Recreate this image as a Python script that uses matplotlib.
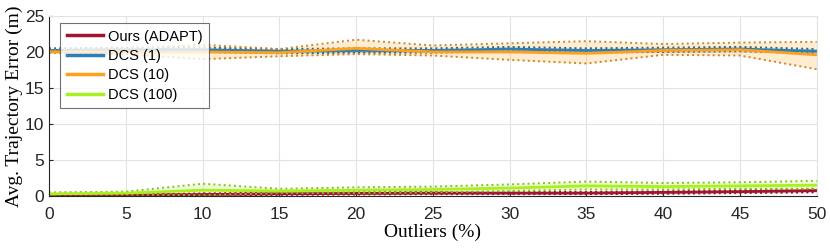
import matplotlib

matplotlib.use("Agg")
import matplotlib.pyplot as plt
import numpy as np

outliers = [0, 5, 10, 15, 20, 25, 30, 35, 40, 45, 50]

ours_mean = [-0.1, 0.1, 0.2, 0.3, 0.35, 0.4, 0.4, 0.4, 0.5, 0.6, 0.75]
ours_lo = [-0.2, 0.0, 0.05, 0.15, 0.2, 0.25, 0.25, 0.25, 0.3, 0.4, 0.5]
ours_hi = [0.0, 0.2, 0.35, 0.45, 0.5, 0.55, 0.55, 0.55, 0.65, 0.8, 1.0]

dcs1_mean = [20.2, 20.3, 20.3, 20.1, 20.2, 20.2, 20.4, 20.2, 20.3, 20.4, 20.1]
dcs1_lo = [19.9, 20.0, 20.0, 19.8, 19.9, 19.9, 20.1, 19.9, 20.0, 20.1, 19.8]
dcs1_hi = [20.5, 20.6, 20.6, 20.4, 20.5, 20.5, 20.7, 20.5, 20.6, 20.7, 20.4]

dcs10_mean = [20.0, 20.0, 20.0, 19.9, 20.5, 20.0, 20.0, 19.8, 20.2, 20.3, 19.6]
dcs10_lo = [19.9, 19.7, 19.0, 19.4, 19.7, 19.5, 18.9, 18.4, 19.6, 19.5, 17.6]
dcs10_hi = [20.2, 20.4, 21.0, 20.4, 21.7, 20.9, 21.2, 21.5, 21.1, 21.3, 21.4]

dcs100_mean = [0.3, 0.4, 0.8, 0.7, 0.8, 0.9, 1.1, 1.4, 1.3, 1.4, 1.5]
dcs100_lo = [0.2, 0.2, 0.1, 0.4, 0.4, 0.5, 0.7, 0.9, 0.9, 1.0, 1.0]
dcs100_hi = [0.5, 0.6, 1.7, 1.0, 1.2, 1.3, 1.6, 2.0, 1.8, 1.9, 2.1]

SERIES = [
    ("Ours (ADAPT)", ours_mean, ours_lo, ours_hi, "#A2142F", "#8a1026"),
    ("DCS (1)", dcs1_mean, dcs1_lo, dcs1_hi, "#2C7FB8", "#2a6a80"),
    ("DCS (10)", dcs10_mean, dcs10_lo, dcs10_hi, "#FFA01C", "#c8892a"),
    ("DCS (100)", dcs100_mean, dcs100_lo, dcs100_hi, "#A8F020", "#86c020"),
]

fig = plt.figure(figsize=(8.3, 2.49), dpi=100)
ax = fig.add_axes([0.059, 0.213, 0.925, 0.723])

for label, mean, lo, hi, color, edge in SERIES:
    ax.fill_between(outliers, lo, hi, color=color, alpha=0.2, linewidth=0)
    ax.plot(outliers, lo, color=edge, linestyle=":", linewidth=1.4)
    ax.plot(outliers, hi, color=edge, linestyle=":", linewidth=1.4)
    ax.plot(outliers, mean, color=color, linewidth=2.0, label=label)

ax.set_xlim(0, 50)
ax.set_ylim(0, 25)
ax.set_xticks(range(0, 51, 5))
ax.set_yticks(range(0, 26, 5))
ax.grid(True, color="#e3e3e3", linewidth=0.8)
ax.set_axisbelow(True)
ax.tick_params(direction="in", labelsize=12.5, colors="#262626", length=3)
ax.tick_params(axis="x", pad=8)
for lab in ax.get_xticklabels() + ax.get_yticklabels():
    lab.set_family("Liberation Sans")
for side in ("top", "right"):
    ax.spines[side].set_color("#e3e3e3")
for side in ("left", "bottom"):
    ax.spines[side].set_color("#262626")
    ax.spines[side].set_linewidth(0.8)

ax.set_xlabel("Outliers (%)", family="Liberation Serif", fontsize=14, labelpad=1)
ax.set_ylabel("Avg. Trajectory Error (m)", family="Liberation Serif", fontsize=14, labelpad=1)

leg = ax.legend(loc="upper left", bbox_to_anchor=(0.0143, 0.961), borderaxespad=0,
                fancybox=False, prop={"family": "Liberation Sans", "size": 10.5},
                handlelength=2.5, borderpad=0.45, labelspacing=0.37, handletextpad=0.35)
leg.get_frame().set_edgecolor("#4d4d4d")
leg.get_frame().set_linewidth(0.8)
for line in leg.get_lines():
    line.set_linewidth(2.5)

fig.savefig("out.png", dpi=100)
